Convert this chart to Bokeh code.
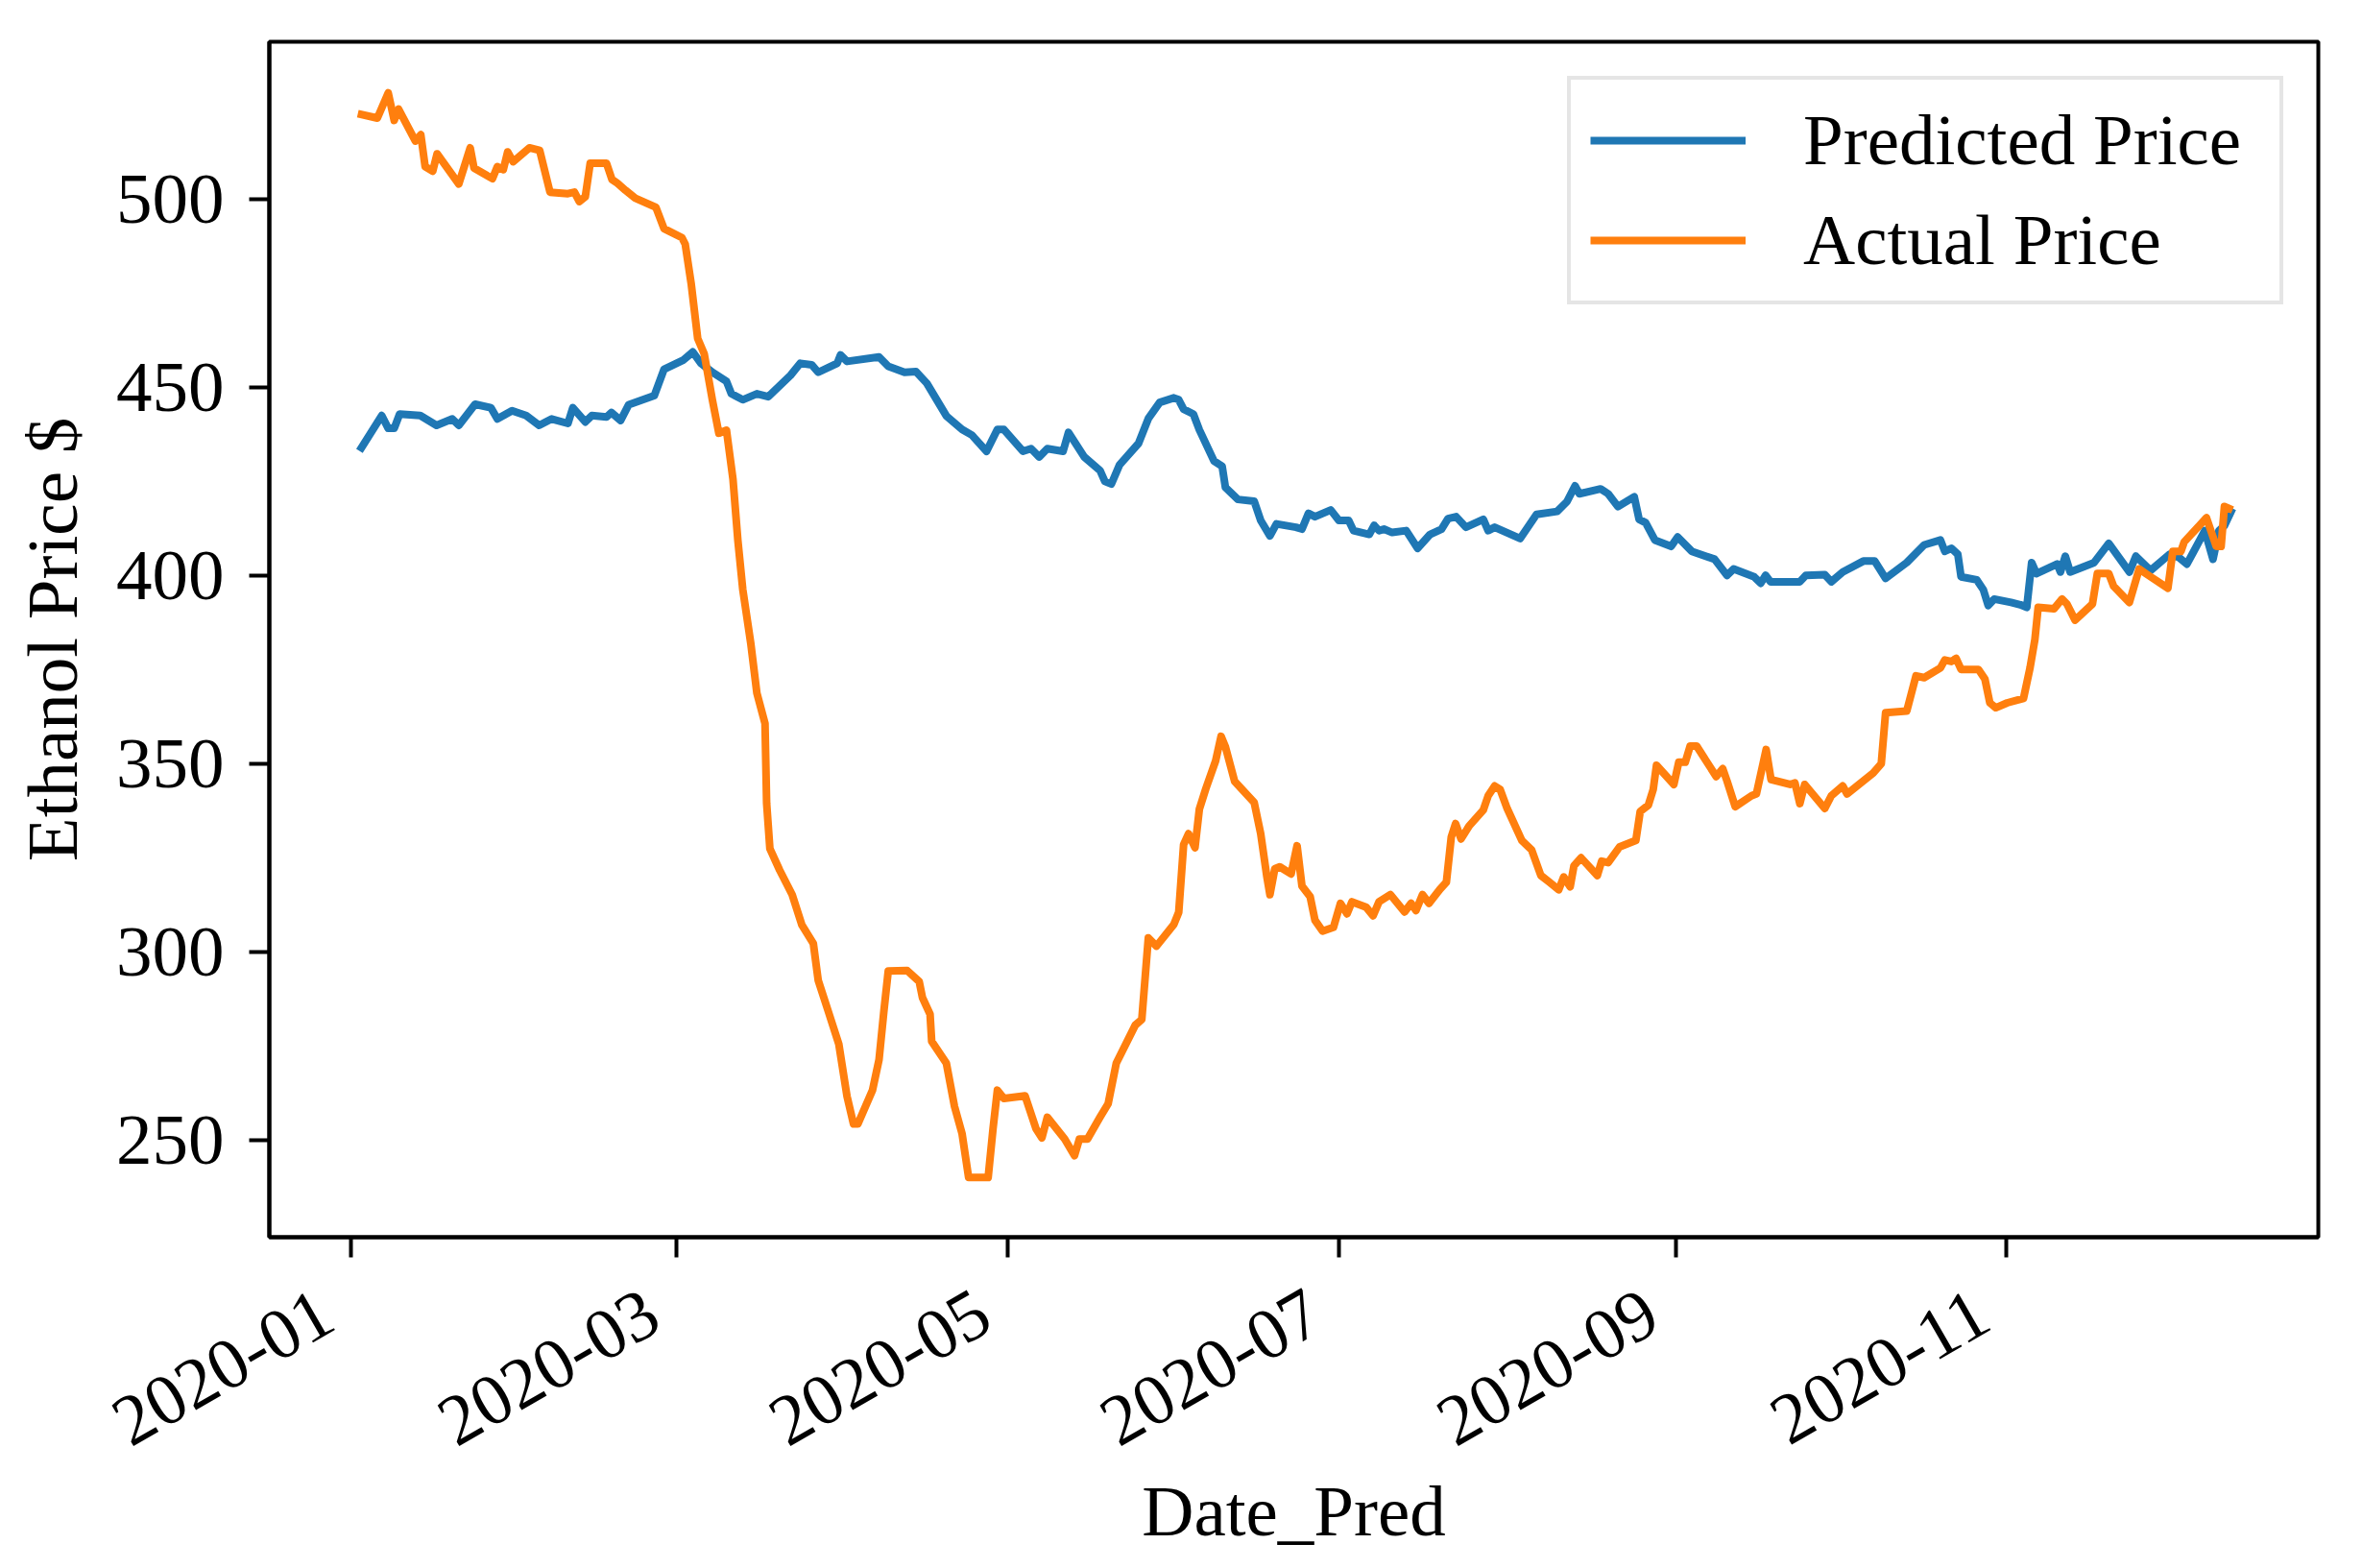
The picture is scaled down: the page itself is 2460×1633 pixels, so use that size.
import numpy as np
import pandas as pd
from math import pi
from bokeh.plotting import figure
from bokeh.models import (Range1d, FixedTicker, Legend, LegendItem, ColumnDataSource,
                          CustomJSTickFormatter, DatetimeTickFormatter, DatetimeAxis)
from bokeh.embed import file_html
from bokeh.resources import INLINE

# ---------------- data (days since 2020-01-01, price $) ----------------
pred_day = [1.6, 5.7, 6.9, 8.0, 9.0, 12.8, 15.8, 18.7, 19.9, 22.9, 25.8, 27.0, 29.7, 32.3,
            34.7, 37.0, 40.0, 40.9, 43.2, 44.4, 47.1, 48.0, 49.7, 51.2, 55.9, 57.7, 61.3,
            63.0, 64.5, 66.6, 69.2, 70.1, 72.2, 74.8, 76.9, 81.0, 82.8, 84.9, 86.1, 89.6,
            90.2, 91.4, 97.3, 99.0, 102.0, 104.1, 106.1, 109.7, 112.6, 114.4, 117.1, 119.1,
            120.3, 123.8, 125.3, 126.8, 128.3, 131.2, 132.2, 135.1, 138.0, 138.9, 140.1,
            141.6, 145.1, 146.9, 149.0, 151.6, 152.5, 153.4, 155.2, 156.3, 159.0, 160.5,
            161.1, 163.4, 166.4, 167.6, 169.3, 170.5, 174.1, 175.2, 176.4, 177.6, 180.5,
            182.0, 183.8, 184.7, 187.6, 188.5, 189.4, 190.3, 191.8, 194.4, 196.5, 198.8,
            200.9, 202.1, 203.6, 205.4, 208.6, 209.5, 210.7, 215.4, 218.4, 222.2, 224.0,
            225.5, 226.3, 230.2, 231.6, 233.4, 236.4, 237.3, 238.5, 240.2, 243.2, 244.4,
            247.0, 251.2, 253.5, 254.7, 258.5, 259.7, 260.6, 261.5, 266.9, 268.0, 271.5,
            272.7, 274.8, 278.6, 280.7, 282.7, 286.6, 289.8, 292.8, 293.6, 294.8, 296.0,
            296.6, 299.5, 300.7, 301.6, 302.7, 305.8, 307.5, 308.7, 309.6, 310.5, 314.3,
            314.9, 315.8, 316.7, 321.1, 323.8, 327.6, 328.8, 331.5, 335.0, 336.8, 338.2,
            341.5, 343.0, 344.1, 345.1, 346.6]
pred_val = [433.2, 442.6, 439.2, 439.2, 443.0, 442.6, 440.0, 441.7, 440.0, 445.6, 444.7, 441.7,
            443.9, 442.6, 440.0, 441.7, 440.5, 444.7, 440.9, 442.6, 442.2, 443.4, 441.3, 445.5,
            447.9, 454.9, 457.4, 459.5, 456.5, 454.1, 451.7, 448.4, 446.8, 448.4, 447.6, 453.3,
            456.5, 456.1, 454.1, 456.5, 458.7, 457.0, 458.2, 455.7, 454.1, 454.3, 451.2, 442.5,
            438.9, 437.4, 433.1, 438.9, 438.9, 433.1, 433.8, 431.6, 433.8, 433.1, 438.1, 431.6,
            428.0, 425.1, 424.4, 429.5, 435.2, 441.8, 446.1, 447.3, 446.8, 444.3, 443.0, 438.8,
            430.5, 429.1, 423.5, 420.3, 419.8, 414.7, 410.6, 413.8, 412.9, 412.4, 416.6, 415.7,
            417.5, 414.7, 414.7, 412.0, 411.0, 413.4, 412.0, 412.4, 411.5, 412.0, 407.3, 411.0,
            412.4, 415.2, 415.7, 412.9, 415.0, 412.0, 412.9, 409.9, 416.3, 417.1, 419.7, 423.9,
            421.8, 423.1, 421.8, 418.4, 421.0, 415.0, 414.1, 409.5, 407.8, 410.3, 406.5, 404.4,
            400.1, 401.8, 399.7, 398.0, 400.1, 398.4, 398.4, 400.1, 400.3, 398.4, 401.0, 403.9,
            403.9, 399.3, 403.5, 408.2, 409.5, 406.5, 407.3, 405.7, 399.7, 398.9, 396.3, 392.1,
            393.8, 392.9, 392.3, 391.6, 403.5, 400.6, 403.1, 401.0, 405.2, 401.0, 403.5, 408.6,
            401.0, 405.2, 401.4, 405.7, 404.8, 403.1, 412.0, 404.4, 412.0, 413.3, 417.9]

act_day = [1.3, 4.9, 6.9, 8.0, 8.8, 11.9, 12.9, 13.7, 15.1, 15.9, 19.9, 22.0, 22.7, 26.1, 27.0,
           28.1, 28.9, 29.9, 32.9, 34.8, 36.7, 40.0, 41.2, 42.1, 43.2, 44.1, 47.1, 48.1, 49.1,
           50.6, 52.4, 56.2, 57.7, 61.0, 61.6, 62.7, 63.9, 65.1, 66.6, 67.8, 69.2, 70.4, 71.3,
           72.2, 73.7, 74.8, 76.3, 76.6, 77.2, 79.0, 81.3, 83.1, 85.2, 86.1, 88.1, 89.9, 91.4,
           92.6, 93.4, 96.1, 97.3, 98.2, 99.0, 102.5, 104.7, 105.3, 106.7, 107.0, 109.7, 111.2,
           112.6, 113.8, 117.4, 118.3, 119.1, 120.3, 124.2, 126.2, 127.3, 128.3, 131.5, 133.3,
           134.2, 135.7, 138.0, 139.5, 141.0, 144.5, 145.7, 146.9, 148.4, 151.6, 152.5, 153.4,
           154.3, 155.5, 156.3, 157.5, 159.3, 160.3, 161.1, 162.8, 166.4, 167.6, 168.7, 169.3,
           170.2, 171.1, 173.2, 174.3, 175.2, 176.7, 177.6, 179.0, 181.0, 182.3, 183.5, 184.4,
           187.0, 188.3, 189.4, 191.5, 194.1, 195.3, 196.2, 197.4, 198.6, 200.6, 201.8, 202.7,
           203.5, 204.5, 206.0, 208.6, 209.5, 210.7, 211.7, 213.0, 215.7, 217.5, 219.2, 220.7,
           222.5, 223.4, 224.6, 225.3, 226.6, 229.6, 230.4, 231.6, 233.7, 236.7, 237.5, 239.0,
           239.9, 240.5, 243.7, 244.6, 245.8, 246.7, 247.9, 251.5, 252.7, 253.5, 255.0, 258.0,
           258.9, 260.7, 261.6, 265.1, 266.0, 266.9, 267.8, 271.5, 272.7, 274.8, 275.6, 280.4,
           281.9, 282.7, 286.6, 288.3, 289.8, 292.8, 293.6, 294.8, 295.7, 296.6, 299.8, 301.0,
           301.9, 303.0, 305.1, 308.1, 309.3, 310.2, 310.8, 313.7, 315.2, 316.1, 317.6, 320.8,
           321.7, 323.8, 324.7, 327.6, 329.4, 330.6, 334.7, 335.6, 337.1, 337.7, 341.8, 343.6,
           344.5, 345.1, 346.6]
act_val = [522.9, 521.7, 528.4, 521.1, 524.1, 515.6, 517.3, 508.8, 507.6, 512.2, 504.2, 513.8,
           508.4, 505.6, 508.8, 508.0, 512.7, 510.1, 513.8, 513.1, 502.0, 501.6, 502.0, 499.5,
           500.8, 509.7, 509.7, 505.4, 504.4, 502.5, 500.4, 498.0, 492.3, 489.9, 488.2, 477.7,
           463.1, 459.0, 446.8, 437.9, 438.7, 425.7, 409.4, 396.4, 381.8, 368.8, 360.7, 339.5,
           327.4, 321.7, 315.2, 307.1, 302.2, 292.4, 283.5, 275.4, 261.6, 254.2, 254.2, 263.2,
           271.3, 284.3, 294.9, 295.0, 292.1, 287.8, 283.4, 276.2, 270.4, 258.9, 251.6, 240.0,
           240.0, 253.0, 263.2, 261.0, 261.7, 253.0, 250.5, 256.0, 250.2, 245.8, 250.2, 250.2,
           256.0, 259.6, 270.4, 280.5, 282.0, 303.7, 301.5, 307.3, 310.5, 328.5, 331.4, 327.7,
           337.9, 343.4, 350.8, 357.3, 354.5, 345.3, 339.7, 331.4, 320.3, 315.2, 322.1, 322.6,
           320.7, 328.2, 317.5, 314.7, 308.4, 305.5, 306.5, 312.9, 310.1, 313.3, 311.9, 309.6,
           313.3, 315.2, 310.6, 312.9, 311.0, 315.2, 312.9, 316.6, 318.5, 330.5, 334.1, 330.0,
           333.5, 337.7, 341.5, 344.1, 343.2, 338.1, 329.6, 327.1, 320.3, 318.6, 316.5, 319.9,
           317.3, 322.9, 325.0, 320.3, 324.1, 323.7, 327.9, 329.6, 337.3, 339.0, 343.2, 349.6,
           344.5, 350.4, 350.4, 354.7, 354.7, 346.6, 348.7, 345.4, 338.6, 341.5, 342.0, 353.8,
           345.8, 344.5, 344.9, 339.4, 344.5, 338.1, 341.5, 344.1, 342.0, 347.5, 350.0, 363.6,
           364.0, 373.4, 372.9, 375.5, 377.6, 377.2, 378.0, 375.1, 375.1, 372.5, 366.2, 364.9,
           366.2, 367.4, 375.5, 383.1, 391.6, 391.2, 393.8, 392.5, 388.2, 392.5, 400.6, 400.6,
           397.2, 392.9, 401.8, 400.6, 396.7, 406.5, 406.5, 409.0, 415.4, 407.8, 407.8, 418.4,
           417.5]

x_ticks = ["2020-01-01", "2020-03-01", "2020-05-01", "2020-07-01", "2020-09-01", "2020-11-01"]
y_ticks = [250, 300, 350, 400, 450, 500]
series_names = ["Predicted Price", "Actual Price"]
series_colors = ["#1f77b4", "#ff7f0e"]

# ---------------- helpers ----------------
base = pd.Timestamp("2020-01-01")


def to_dates(days):
    return base + pd.to_timedelta(np.asarray(days, dtype=float), unit="D")


def ms(ts):
    return pd.Timestamp(ts).value / 1e6


FONT = "Liberation Serif"
FS = "75px"
X0 = ms(base + pd.Timedelta(days=-15.0))
X1 = ms(base + pd.Timedelta(days=362.4))
# tick-label axis range is shifted so rotated labels end left of their tick (matplotlib ha="right")
LABEL_SHIFT = pd.Timedelta(days=4.4).value / 1e6

p = figure(width=2444, height=1617, x_axis_type="datetime",
           output_backend="svg", toolbar_location=None,
           x_range=Range1d(X0, X1), y_range=Range1d(224.1, 542.0),
           min_border_left=280, min_border_top=43, min_border_right=30, min_border_bottom=326)
p.extra_x_ranges = {"labels": Range1d(X0 + LABEL_SHIFT, X1 + LABEL_SHIFT)}

p.background_fill_color = "white"
p.border_fill_color = "white"
p.outline_line_color = "black"
p.outline_line_width = 4
p.xgrid.visible = False
p.ygrid.visible = False

src_pred = ColumnDataSource(dict(x=to_dates(pred_day), y=pred_val))
src_act = ColumnDataSource(dict(x=to_dates(act_day), y=act_val))

r1 = p.line("x", "y", source=src_pred, line_color=series_colors[0], line_width=8, line_join="round")
r2 = p.line("x", "y", source=src_act, line_color=series_colors[1], line_width=8, line_join="round")

# main axes (ticks)
p.xaxis.ticker = FixedTicker(ticks=[ms(t) for t in x_ticks])
p.xaxis.formatter = CustomJSTickFormatter(code="return '';")
p.yaxis.ticker = FixedTicker(ticks=y_ticks)

for ax in (p.xaxis[0], p.yaxis[0]):
    ax.axis_line_width = 4
    ax.axis_line_color = "black"
    ax.major_tick_line_width = 4
    ax.major_tick_line_color = "black"
    ax.major_tick_out = 21
    ax.major_tick_in = 0
    ax.minor_tick_out = 0
    ax.minor_tick_in = 0
    ax.major_label_text_font = FONT
    ax.major_label_text_font_size = FS
    ax.major_label_text_color = "black"
    ax.axis_label_text_font = FONT
    ax.axis_label_text_font_size = FS
    ax.axis_label_text_font_style = "normal"
    ax.axis_label_text_color = "black"

p.xaxis.major_label_text_font_size = "0px"
p.xaxis.major_label_standoff = 0
p.yaxis.axis_label = "Ethanol Price $"
p.yaxis.major_label_standoff = 26
p.yaxis.axis_label_standoff = 22

# label axis: rotated date labels + axis title
fmt = "%Y-%m"
lab_axis = DatetimeAxis(
    x_range_name="labels",
    ticker=FixedTicker(ticks=[ms(t) for t in x_ticks]),
    formatter=DatetimeTickFormatter(microseconds=fmt, milliseconds=fmt, seconds=fmt, minsec=fmt,
                                    minutes=fmt, hourmin=fmt, hours=fmt, days=fmt,
                                    months=fmt, years=fmt),
    axis_line_color=None, major_tick_line_color=None, minor_tick_line_color=None,
    major_tick_out=0, major_tick_in=0, minor_tick_out=0, minor_tick_in=0,
    major_label_orientation=pi / 6, major_label_standoff=52,
    major_label_text_font=FONT, major_label_text_font_size=FS, major_label_text_color="black",
    axis_label="Date_Pred", axis_label_standoff=0,
    axis_label_text_font=FONT, axis_label_text_font_size=FS,
    axis_label_text_font_style="normal", axis_label_text_color="black")
p.add_layout(lab_axis, "below")

legend = Legend(items=[LegendItem(label=series_names[0], renderers=[r1]),
                       LegendItem(label=series_names[1], renderers=[r2])],
                location="top_right", margin=36, padding=20, spacing=18,
                glyph_width=162, glyph_height=82, label_height=82, label_standoff=60,
                label_width=476,
                label_text_font=FONT, label_text_font_size=FS, label_text_color="black",
                border_line_color="#cccccc", border_line_width=4,
                background_fill_color="white", background_fill_alpha=1.0)
p.add_layout(legend)

open("out.html", "w").write(file_html(p, INLINE))
